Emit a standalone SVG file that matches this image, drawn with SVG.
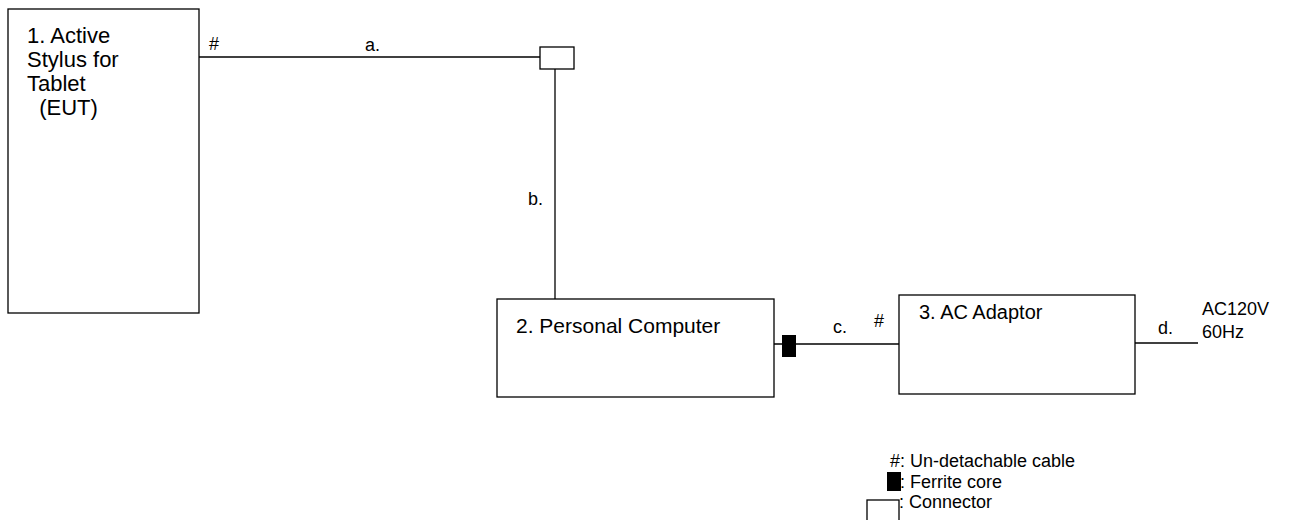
<svg xmlns="http://www.w3.org/2000/svg" width="1310" height="520" viewBox="0 0 1310 520">
<style>
text{font-family:"Liberation Sans",Arial,sans-serif;font-size:21px;fill:#000}
.lg{font-size:18px}
.n1{font-size:22px}
.box{fill:#fff;stroke:#000;stroke-width:1.3}
.ln{stroke:#000;stroke-width:1.3;fill:none}
</style>
<rect width="1310" height="520" fill="#fff"/>
<g id="connectors">
<line class="ln" x1="199" y1="57" x2="540" y2="57"/>
<line class="ln" x1="555" y1="69" x2="555" y2="299"/>
<line class="ln" x1="774" y1="344" x2="899" y2="344"/>
<line class="ln" x1="1135" y1="343" x2="1198" y2="343"/>
<rect id="connector" class="box" x="540" y="47" width="34" height="22"/>
<rect id="ferrite" x="782" y="335" width="14" height="22" fill="#000"/>
<text class="lg" x="209" y="50">#</text>
<text class="lg" x="365" y="51">a.</text>
<text class="lg" x="528" y="205">b.</text>
<text class="lg" x="833" y="333">c.</text>
<text class="lg" x="874" y="327">#</text>
<text class="lg" x="1158" y="334">d.</text>
</g>
<g id="node1">
<rect class="box" x="8" y="9" width="191" height="304"/>
<text class="n1" x="27" y="43">1. Active</text>
<text class="n1" x="27" y="67">Stylus for</text>
<text class="n1" x="27" y="91">Tablet</text>
<text class="n1" x="27" y="115" xml:space="preserve">  (EUT)</text>
</g>
<g id="node2">
<rect class="box" x="497" y="299" width="277" height="98"/>
<text x="516" y="333">2. Personal Computer</text>
</g>
<g id="node3">
<rect class="box" x="899" y="295" width="236" height="99"/>
<text style="font-size:20px" x="919" y="319">3. AC Adaptor</text>
</g>
<g id="power">
<text class="lg" x="1202" y="315">AC120V</text>
<text class="lg" x="1202" y="338">60Hz</text>
</g>
<g id="legend">
<text class="lg" x="890" y="467">#: Un-detachable cable</text>
<rect x="887" y="472" width="14" height="19" fill="#000"/>
<text class="lg" x="900" y="488">: Ferrite core</text>
<rect class="box" x="867" y="500" width="32" height="24"/>
<text class="lg" x="899" y="508">: Connector</text>
</g>
</svg>
